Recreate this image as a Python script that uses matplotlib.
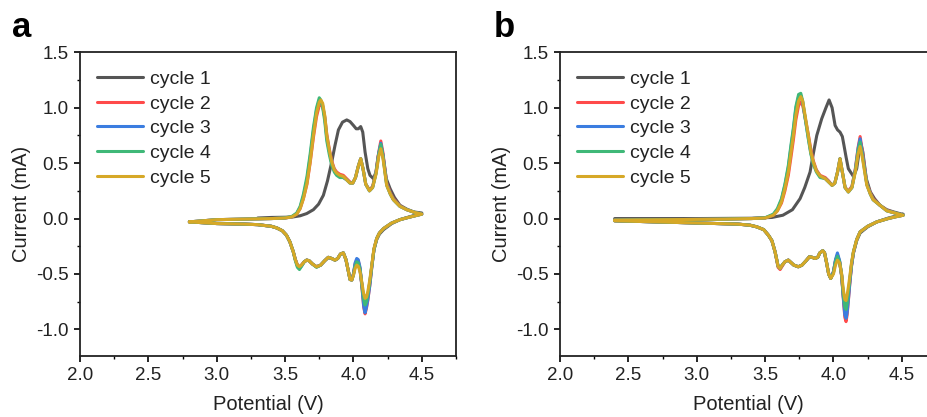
import matplotlib
matplotlib.use("Agg")
import matplotlib.pyplot as plt
from matplotlib.ticker import MultipleLocator

plt.rcParams['font.family'] = ['Liberation Sans', 'DejaVu Sans']

labels = ["cycle 1", "cycle 2", "cycle 3", "cycle 4", "cycle 5"]
colors = ["#555555", "#ff4a4a", "#3b7de0", "#3fb878", "#d6a827"]

# ---------------- Panel a ----------------
# cycle 1
a_c1_v_an = [3.30, 3.40, 3.50, 3.56, 3.61, 3.658, 3.707, 3.745, 3.78, 3.81, 3.841, 3.865, 3.89, 3.92,
             3.951, 3.975, 4.0, 4.02, 4.036, 4.053, 4.068, 4.085, 4.105, 4.121, 4.146, 4.165, 4.18,
             4.2, 4.215, 4.24, 4.268, 4.30, 4.34, 4.39, 4.44, 4.50]
a_c1_i_an = [0.005, 0.01, 0.012, 0.015, 0.025, 0.045, 0.08, 0.13, 0.21, 0.34, 0.51, 0.66, 0.80, 0.87,
             0.89, 0.875, 0.84, 0.81, 0.81, 0.83, 0.78, 0.60, 0.45, 0.39, 0.36, 0.42, 0.56,
             0.66, 0.58, 0.36, 0.27, 0.19, 0.12, 0.085, 0.06, 0.05]

# cycles 2-5 anodic (shared potential grid)
a_v_an = [2.80, 3.00, 3.20, 3.40, 3.50, 3.55, 3.585, 3.61, 3.634, 3.66, 3.683, 3.707, 3.73, 3.75,
          3.761, 3.775, 3.79, 3.805, 3.823, 3.841, 3.86, 3.877, 3.90, 3.926, 3.95, 3.975, 3.995,
          4.015, 4.035, 4.053, 4.07, 4.09, 4.117, 4.14, 4.165, 4.185, 4.2, 4.215, 4.243, 4.27,
          4.292, 4.34, 4.39, 4.45, 4.50]
a_c2_i_an = [-0.03, -0.01, -0.005, 0.0, 0.005, 0.015, 0.04, 0.09, 0.18, 0.31, 0.50, 0.73, 0.92, 1.02,
             1.03, 1.01, 0.92, 0.76, 0.63, 0.52, 0.45, 0.42, 0.40, 0.39, 0.36, 0.33, 0.32,
             0.37, 0.47, 0.54, 0.45, 0.31, 0.26, 0.29, 0.42, 0.60, 0.70, 0.60, 0.32, 0.23,
             0.18, 0.115, 0.08, 0.055, 0.04]
a_c3_i_an = [-0.03, -0.01, -0.005, 0.0, 0.005, 0.015, 0.045, 0.10, 0.20, 0.35, 0.55, 0.79, 0.98, 1.07,
             1.06, 1.02, 0.91, 0.73, 0.61, 0.50, 0.44, 0.40, 0.38, 0.37, 0.35, 0.32, 0.32,
             0.37, 0.47, 0.54, 0.45, 0.31, 0.25, 0.28, 0.41, 0.59, 0.68, 0.58, 0.31, 0.22,
             0.17, 0.11, 0.08, 0.055, 0.04]
a_c4_i_an = [-0.03, -0.01, -0.005, 0.0, 0.006, 0.02, 0.05, 0.11, 0.22, 0.38, 0.58, 0.82, 1.00, 1.09,
             1.07, 1.00, 0.88, 0.70, 0.58, 0.48, 0.42, 0.39, 0.37, 0.37, 0.35, 0.32, 0.32,
             0.37, 0.47, 0.54, 0.45, 0.31, 0.25, 0.28, 0.41, 0.58, 0.67, 0.57, 0.30, 0.22,
             0.17, 0.11, 0.08, 0.055, 0.04]
a_c5_i_an = [-0.03, -0.01, -0.005, 0.0, 0.005, 0.015, 0.04, 0.09, 0.18, 0.32, 0.51, 0.75, 0.95, 1.05,
             1.07, 1.04, 0.93, 0.75, 0.62, 0.51, 0.44, 0.41, 0.39, 0.38, 0.35, 0.32, 0.32,
             0.37, 0.47, 0.54, 0.45, 0.31, 0.25, 0.28, 0.40, 0.56, 0.63, 0.55, 0.30, 0.22,
             0.17, 0.11, 0.08, 0.055, 0.04]

# cathodic (shared potential grid, all cycles)
a_v_cat = [4.50, 4.45, 4.40, 4.34, 4.28, 4.22, 4.19, 4.17, 4.15, 4.134, 4.12, 4.105, 4.095, 4.085,
           4.075, 4.062, 4.048, 4.035, 4.024, 4.012, 4.0, 3.988, 3.975, 3.962, 3.945, 3.926, 3.905,
           3.885, 3.865, 3.84, 3.816, 3.79, 3.76, 3.73, 3.70, 3.675, 3.658, 3.64, 3.62, 3.605,
           3.59, 3.575, 3.56, 3.535, 3.51, 3.48, 3.44, 3.40, 3.30, 3.20, 3.00, 2.80]
a_c1_i_cat = [0.05, 0.03, 0.012, -0.01, -0.045, -0.10, -0.14, -0.19, -0.28, -0.43, -0.57, -0.70, -0.77, -0.80,
              -0.75, -0.60, -0.46, -0.39, -0.38, -0.42, -0.50, -0.55, -0.55, -0.47, -0.37, -0.31, -0.32,
              -0.36, -0.375, -0.36, -0.35, -0.38, -0.42, -0.435, -0.41, -0.38, -0.375, -0.39, -0.42, -0.435,
              -0.42, -0.37, -0.30, -0.21, -0.15, -0.11, -0.085, -0.07, -0.055, -0.05, -0.045, -0.03]
a_c2_i_cat = [0.04, 0.025, 0.01, -0.01, -0.04, -0.09, -0.13, -0.18, -0.28, -0.44, -0.60, -0.74, -0.81, -0.86,
              -0.80, -0.62, -0.45, -0.38, -0.375, -0.41, -0.50, -0.555, -0.55, -0.47, -0.37, -0.31, -0.32,
              -0.36, -0.375, -0.36, -0.35, -0.38, -0.42, -0.435, -0.41, -0.38, -0.375, -0.39, -0.42, -0.44,
              -0.42, -0.37, -0.30, -0.21, -0.15, -0.11, -0.085, -0.07, -0.055, -0.05, -0.045, -0.03]
a_c3_i_cat = [0.04, 0.025, 0.01, -0.01, -0.04, -0.09, -0.13, -0.18, -0.28, -0.44, -0.60, -0.73, -0.80, -0.85,
              -0.79, -0.61, -0.44, -0.37, -0.36, -0.40, -0.50, -0.555, -0.55, -0.47, -0.37, -0.31, -0.32,
              -0.36, -0.375, -0.36, -0.35, -0.38, -0.42, -0.435, -0.41, -0.38, -0.375, -0.39, -0.43, -0.45,
              -0.43, -0.37, -0.30, -0.21, -0.15, -0.11, -0.085, -0.07, -0.055, -0.05, -0.045, -0.03]
a_c4_i_cat = [0.04, 0.025, 0.01, -0.01, -0.04, -0.09, -0.13, -0.18, -0.28, -0.43, -0.57, -0.69, -0.75, -0.78,
              -0.73, -0.60, -0.46, -0.40, -0.39, -0.43, -0.51, -0.555, -0.55, -0.47, -0.37, -0.31, -0.32,
              -0.36, -0.375, -0.36, -0.35, -0.38, -0.42, -0.44, -0.41, -0.38, -0.375, -0.39, -0.43, -0.46,
              -0.44, -0.38, -0.30, -0.21, -0.15, -0.11, -0.085, -0.07, -0.055, -0.05, -0.045, -0.03]
a_c5_i_cat = [0.04, 0.025, 0.01, -0.01, -0.04, -0.09, -0.13, -0.18, -0.27, -0.42, -0.55, -0.66, -0.71, -0.72,
              -0.68, -0.58, -0.48, -0.43, -0.42, -0.45, -0.51, -0.555, -0.55, -0.47, -0.37, -0.31, -0.32,
              -0.36, -0.375, -0.36, -0.35, -0.38, -0.42, -0.435, -0.41, -0.38, -0.375, -0.39, -0.42, -0.435,
              -0.42, -0.37, -0.30, -0.21, -0.15, -0.11, -0.085, -0.07, -0.055, -0.05, -0.045, -0.03]

# ---------------- Panel b ----------------
b_c1_v_an = [2.40, 3.00, 3.40, 3.55, 3.63, 3.70, 3.756, 3.79, 3.829, 3.855, 3.878, 3.914, 3.945, 3.968,
             3.99, 4.012, 4.03, 4.048, 4.065, 4.077, 4.093, 4.109, 4.146, 4.17, 4.185, 4.2, 4.215,
             4.24, 4.27, 4.30, 4.34, 4.39, 4.44, 4.50]
b_c1_i_an = [0.0, 0.0, 0.003, 0.01, 0.03, 0.08, 0.18, 0.28, 0.42, 0.60, 0.75, 0.90, 1.00, 1.07,
             1.00, 0.84, 0.80, 0.78, 0.74, 0.66, 0.55, 0.45, 0.38, 0.45, 0.58, 0.68, 0.60,
             0.36, 0.24, 0.18, 0.12, 0.08, 0.06, 0.04]

b_v_an = [2.40, 2.80, 3.20, 3.40, 3.50, 3.56, 3.59, 3.62, 3.645, 3.67, 3.69, 3.707, 3.725, 3.745,
          3.761, 3.775, 3.79, 3.816, 3.835, 3.853, 3.875, 3.902, 3.94, 3.965, 3.99, 4.01, 4.03,
          4.048, 4.065, 4.085, 4.109, 4.135, 4.16, 4.18, 4.195, 4.21, 4.244, 4.27, 4.29, 4.34,
          4.39, 4.45, 4.51]
b_c2_i_an = [-0.014, -0.01, -0.005, 0.0, 0.005, 0.03, 0.07, 0.14, 0.25, 0.39, 0.56, 0.71, 0.89, 1.02,
             1.05, 1.02, 0.93, 0.76, 0.62, 0.52, 0.44, 0.39, 0.37, 0.34, 0.30, 0.32, 0.42,
             0.54, 0.42, 0.28, 0.25, 0.29, 0.45, 0.64, 0.74, 0.62, 0.32, 0.23, 0.18, 0.12,
             0.075, 0.05, 0.03]
b_c3_i_an = [-0.014, -0.01, -0.005, 0.0, 0.006, 0.035, 0.08, 0.17, 0.30, 0.46, 0.65, 0.80, 0.99, 1.10,
             1.11, 1.05, 0.93, 0.73, 0.59, 0.50, 0.43, 0.38, 0.36, 0.33, 0.30, 0.32, 0.42,
             0.54, 0.42, 0.28, 0.24, 0.28, 0.44, 0.63, 0.72, 0.60, 0.31, 0.22, 0.17, 0.12,
             0.07, 0.05, 0.03]
b_c4_i_an = [-0.014, -0.01, -0.005, 0.0, 0.007, 0.04, 0.09, 0.18, 0.31, 0.48, 0.67, 0.82, 1.01, 1.12,
             1.13, 1.06, 0.93, 0.72, 0.58, 0.49, 0.42, 0.37, 0.36, 0.33, 0.30, 0.32, 0.42,
             0.54, 0.42, 0.28, 0.24, 0.28, 0.43, 0.61, 0.69, 0.58, 0.31, 0.22, 0.17, 0.12,
             0.07, 0.05, 0.03]
b_c5_i_an = [-0.014, -0.01, -0.005, 0.0, 0.005, 0.03, 0.07, 0.15, 0.27, 0.42, 0.60, 0.75, 0.93, 1.06,
             1.10, 1.06, 0.95, 0.75, 0.60, 0.51, 0.43, 0.385, 0.36, 0.33, 0.30, 0.32, 0.42,
             0.54, 0.42, 0.28, 0.24, 0.28, 0.42, 0.58, 0.65, 0.56, 0.30, 0.22, 0.17, 0.12,
             0.07, 0.05, 0.03]

b_v_cat = [4.51, 4.45, 4.40, 4.317, 4.25, 4.195, 4.17, 4.146, 4.132, 4.121, 4.11, 4.10, 4.092, 4.083,
           4.072, 4.06, 4.045, 4.029, 4.015, 4.0, 3.98, 3.965, 3.95, 3.935, 3.922, 3.9, 3.885,
           3.865, 3.845, 3.824, 3.80, 3.77, 3.743, 3.71, 3.67, 3.645, 3.625, 3.61, 3.595, 3.573,
           3.55, 3.524, 3.49, 3.44, 3.39, 3.30, 3.00, 2.70, 2.40]
b_c1_i_cat = [0.04, 0.02, 0.004, -0.03, -0.075, -0.13, -0.20, -0.31, -0.42, -0.55, -0.68, -0.79, -0.85, -0.83,
              -0.70, -0.52, -0.39, -0.33, -0.38, -0.48, -0.54, -0.50, -0.40, -0.31, -0.29, -0.31, -0.35,
              -0.36, -0.35, -0.345, -0.38, -0.42, -0.435, -0.42, -0.375, -0.39, -0.42, -0.45, -0.43, -0.30,
              -0.20, -0.15, -0.10, -0.075, -0.06, -0.05, -0.04, -0.03, -0.02]
b_c2_i_cat = [0.03, 0.015, 0.0, -0.03, -0.07, -0.12, -0.19, -0.31, -0.43, -0.57, -0.73, -0.87, -0.93, -0.89,
              -0.72, -0.52, -0.39, -0.33, -0.38, -0.48, -0.54, -0.50, -0.40, -0.31, -0.29, -0.31, -0.35,
              -0.36, -0.35, -0.345, -0.38, -0.42, -0.435, -0.42, -0.375, -0.39, -0.43, -0.46, -0.44, -0.30,
              -0.20, -0.15, -0.10, -0.075, -0.06, -0.05, -0.04, -0.03, -0.02]
b_c3_i_cat = [0.03, 0.015, 0.0, -0.03, -0.07, -0.12, -0.19, -0.31, -0.43, -0.56, -0.72, -0.85, -0.90, -0.87,
              -0.71, -0.51, -0.38, -0.31, -0.37, -0.48, -0.54, -0.50, -0.40, -0.31, -0.29, -0.31, -0.35,
              -0.36, -0.35, -0.345, -0.38, -0.42, -0.435, -0.42, -0.375, -0.39, -0.42, -0.45, -0.43, -0.30,
              -0.20, -0.15, -0.10, -0.075, -0.06, -0.05, -0.04, -0.03, -0.02]
b_c4_i_cat = [0.03, 0.015, 0.0, -0.03, -0.07, -0.12, -0.19, -0.30, -0.41, -0.53, -0.66, -0.77, -0.82, -0.80,
              -0.68, -0.51, -0.39, -0.34, -0.39, -0.49, -0.54, -0.50, -0.40, -0.31, -0.29, -0.31, -0.35,
              -0.36, -0.35, -0.345, -0.38, -0.42, -0.435, -0.42, -0.375, -0.39, -0.42, -0.45, -0.43, -0.30,
              -0.20, -0.15, -0.10, -0.075, -0.06, -0.05, -0.04, -0.03, -0.02]
b_c5_i_cat = [0.03, 0.015, 0.0, -0.03, -0.07, -0.12, -0.19, -0.30, -0.40, -0.51, -0.61, -0.69, -0.74, -0.73,
              -0.64, -0.50, -0.40, -0.375, -0.42, -0.50, -0.54, -0.50, -0.40, -0.31, -0.29, -0.31, -0.35,
              -0.36, -0.35, -0.345, -0.38, -0.42, -0.435, -0.42, -0.375, -0.39, -0.42, -0.45, -0.43, -0.30,
              -0.20, -0.15, -0.10, -0.075, -0.06, -0.05, -0.04, -0.03, -0.02]

x_ticks = [2.0, 2.5, 3.0, 3.5, 4.0, 4.5]
y_ticks = [-1.0, -0.5, 0.0, 0.5, 1.0, 1.5]

panels = {
    "a": {
        "curves": [
            (a_c1_v_an, a_c1_i_an, a_v_cat, a_c1_i_cat),
            (a_v_an, a_c2_i_an, a_v_cat, a_c2_i_cat),
            (a_v_an, a_c3_i_an, a_v_cat, a_c3_i_cat),
            (a_v_an, a_c4_i_an, a_v_cat, a_c4_i_cat),
            (a_v_an, a_c5_i_an, a_v_cat, a_c5_i_cat),
        ],
        "rect": [80 / 928, 1 - 356 / 417, 376 / 928, 303.7 / 417],
        "label_x": 12 / 928,
    },
    "b": {
        "curves": [
            (b_c1_v_an, b_c1_i_an, b_v_cat, b_c1_i_cat),
            (b_v_an, b_c2_i_an, b_v_cat, b_c2_i_cat),
            (b_v_an, b_c3_i_an, b_v_cat, b_c3_i_cat),
            (b_v_an, b_c4_i_an, b_v_cat, b_c4_i_cat),
            (b_v_an, b_c5_i_an, b_v_cat, b_c5_i_cat),
        ],
        "rect": [560 / 928, 1 - 356 / 417, 376 / 928, 303.7 / 417],
        "label_x": 494 / 928,
    },
}

fig = plt.figure(figsize=(9.28, 4.17), dpi=100)

for name, p in panels.items():
    ax = fig.add_axes(p["rect"])
    for (va, ia, vc, ic), col, lab in zip(p["curves"], colors, labels):
        ax.plot(list(va) + list(vc), list(ia) + list(ic), color=col, lw=2.2,
                label=lab, solid_joinstyle="round", solid_capstyle="round")
    ax.set_xlim(2.0, 4.75)
    ax.set_ylim(-1.24, 1.5)
    ax.set_xticks(x_ticks)
    ax.set_yticks(y_ticks)
    ax.set_xticklabels([f"{t:.1f}" for t in x_ticks])
    ax.set_yticklabels([f"{t:.1f}" for t in y_ticks])
    ax.xaxis.set_minor_locator(MultipleLocator(0.25))
    ax.yaxis.set_minor_locator(MultipleLocator(0.25))
    ax.tick_params(which="major", direction="out", length=4, width=1.2, labelsize=13.5,
                   colors="black", labelcolor="#222222", pad=4)
    ax.tick_params(which="minor", direction="out", length=2.5, width=1.0)
    ax.tick_params(top=False, right=False, which="both")
    for s in ax.spines.values():
        s.set_linewidth(1.3)
        s.set_color("#222222")
    ax.set_xlabel("Potential (V)", fontsize=14.5, color="#222222", labelpad=8)
    ax.set_ylabel("Current (mA)", fontsize=14.5, color="#222222", labelpad=4)
    ax.legend(loc="upper left", frameon=False, fontsize=14, handlelength=2.35,
              handletextpad=0.35, labelspacing=0.36, borderaxespad=0.3,
              bbox_to_anchor=(0.01, 0.985), labelcolor="#222222")
    fig.text(p["label_x"], 1 - 37 / 417, name, fontsize=25, fontweight="bold",
             ha="left", va="baseline", color="black")

fig.savefig("out.png", dpi=100)
